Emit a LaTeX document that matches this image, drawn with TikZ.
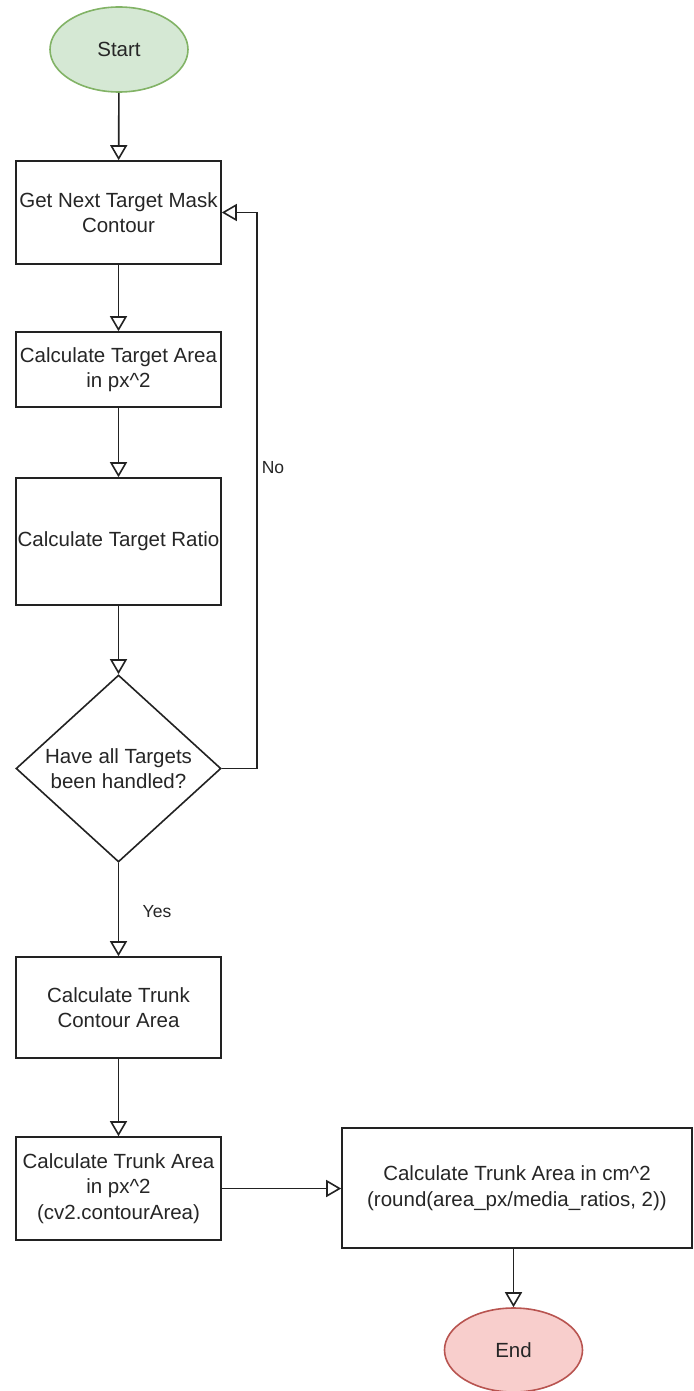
\documentclass[tikz,border=0pt]{standalone}
\usepackage{fontspec}
\setmainfont{Liberation Sans}
\usetikzlibrary{arrows.meta,shapes.geometric}
\definecolor{startfill}{HTML}{D5E8D4}
\definecolor{startline}{HTML}{82B366}
\definecolor{endfill}{HTML}{F8CECC}
\definecolor{endline}{HTML}{B85450}
\definecolor{ink}{HTML}{222222}
\definecolor{txt}{HTML}{262626}
\begin{document}
\begin{tikzpicture}[x=1pt,y=-1pt,
  every node/.style={font=\fontsize{20.5}{25.5}\selectfont, text=txt, inner sep=0pt},
  proc/.style={draw=ink, line width=1.6pt, fill=white, rectangle, align=center, minimum width=205pt},
  term/.style={ellipse, line width=1.6pt, minimum width=138pt, minimum height=85pt},
  decision/.style={diamond, draw=ink, line width=1.6pt, fill=white, align=center,
    minimum width=205pt, minimum height=187pt, shape aspect=1.1},
  flow/.style={draw=ink, line width=1.6pt, -{Triangle[open, length=15pt, width=17pt]}},
  lbl/.style={font=\fontsize{17.5}{21}\selectfont}
]
\useasboundingbox (0,0) rectangle (693,1391);

% process nodes
\node[term, draw=startline, fill=startfill] (start) at (119,49.5) {Start};
\node[proc, minimum height=103pt] (b1) at (118.5,212.5) {Get Next Target Mask\\Contour};
\node[proc, minimum height=75pt] (b2) at (118.5,369.5) {Calculate Target Area\\in px\textasciicircum 2};
\node[proc, minimum height=127pt] (b3) at (118.5,541.5) {Calculate Target Ratio};
\node[decision] (dia) at (118.5,768.5) {Have all Targets\\been handled?};
\node[proc, minimum height=101pt] (b4) at (118.5,1007.5) {Calculate Trunk\\Contour Area};
\node[proc, minimum height=103pt] (b5) at (118.5,1188.5) {Calculate Trunk Area\\in px\textasciicircum 2\\(cv2.contourArea)};
\node[proc, minimum width=350pt, minimum height=120pt] (b6) at (517,1188)
  {Calculate Trunk Area in cm\textasciicircum 2\\(round(area\_px/media\_ratios, 2))};
\node[term, draw=endline, fill=endfill, minimum height=84pt] (end) at (513.5,1350) {End};

% branch labels
\node[lbl] (lno) at (273,468) {No};
\node[lbl] (lyes) at (157,912) {Yes};

% connectors
\draw[flow] (start) -- (b1);
\draw[flow] (b1) -- (b2);
\draw[flow] (b2) -- (b3);
\draw[flow] (b3) -- (dia);
\draw[flow] (dia) -- (b4);
\draw[flow] (b4) -- (b5);
\draw[flow] (dia.east) -- ++(35,0) |- (b1.east);
\draw[flow] (b5.east) -- (b5.east -| b6.west);
\draw[flow] (end.north |- b6.south) -- (end.north);
\end{tikzpicture}
\end{document}
